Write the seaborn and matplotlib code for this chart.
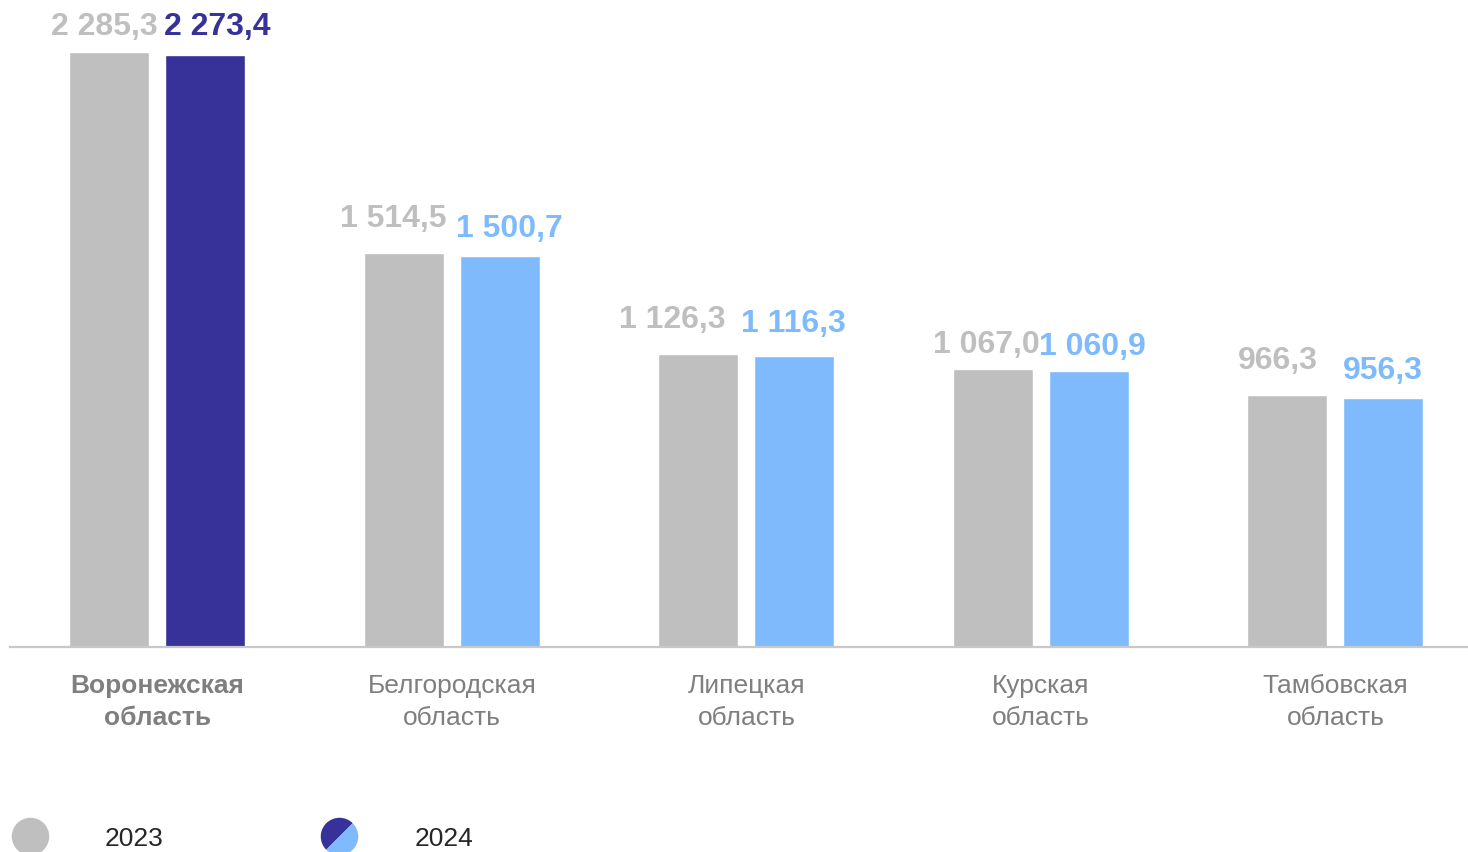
import pandas as pd
import matplotlib
matplotlib.use("Agg")
import matplotlib.pyplot as plt
import seaborn as sns
from matplotlib.lines import Line2D
from matplotlib.markers import MarkerStyle
from matplotlib.transforms import Affine2D

# Data
regions = ["Воронежская\nобласть", "Белгородская\nобласть", "Липецкая\nобласть",
           "Курская\nобласть", "Тамбовская\nобласть"]
values_2023 = [2285.3, 1514.5, 1126.3, 1067.0, 966.3]
values_2024 = [2273.4, 1500.7, 1116.3, 1060.9, 956.3]
years = ["2023", "2024"]

GRAY = "#BFBFBF"
DARK = "#37319A"
LIGHT = "#7FBBFC"

# small label nudges in pixels (dx, gap above bar top to baseline)
nudge_x = [[-5, -11, -26, -7, -10], [12, 10, -1, 3, -1]]
gap_y = [[18, 27, 27, 17, 27], [21, 20, 25, 17, 20]]

df = pd.DataFrame({
    "region": regions * 2,
    "year": [years[0]] * len(regions) + [years[1]] * len(regions),
    "value": values_2023 + values_2024,
})

sns.set_style("white")
plt.rcParams["font.family"] = ["Liberation Sans", "DejaVu Sans"]

fig = plt.figure(figsize=(14.68, 8.53), dpi=100)
ax = fig.add_axes([10 / 1468, 205 / 853, 1458 / 1468, 648 / 853])

sns.barplot(data=df, x="region", y="value", hue="year", order=regions,
            palette={"2023": GRAY, "2024": LIGHT}, width=0.652, gap=0.167,
            legend=False, ax=ax, saturation=1)

# first 2024 bar is dark (highlighted region)
ax.containers[1][0].set_facecolor(DARK)


def fmt(v):
    return f"{v:,.1f}".replace(",", " ").replace(".", ",")


px = 72 / 100  # points per pixel
for c, cont in enumerate(ax.containers):
    for i, bar in enumerate(cont):
        col = GRAY if c == 0 else bar.get_facecolor()
        ax.annotate(fmt(bar.get_height()),
                    (bar.get_x() + bar.get_width() / 2, bar.get_height()),
                    xytext=(nudge_x[c][i] * px, gap_y[c][i] * px),
                    textcoords="offset points",
                    ha="center", va="baseline", fontsize=23, fontweight="bold",
                    color=col, annotation_clip=False)

ax.set_xlim(-0.5, 4.45)
ax.set_ylim(0, 2488)
ax.set_xlabel("")
ax.set_ylabel("")
ax.set_yticks([])
ax.tick_params(axis="x", length=0, pad=19, labelsize=19, labelcolor="#7F7F7F")
for lab in ax.get_xticklabels():
    lab.set_linespacing(1.38)
ax.get_xticklabels()[0].set_fontweight("bold")

for s in ["top", "left", "right"]:
    ax.spines[s].set_visible(False)
ax.spines["bottom"].set_color("#C8C8C8")
ax.spines["bottom"].set_linewidth(1.6)

# Legend
split = MarkerStyle("o", fillstyle="top", transform=Affine2D().rotate_deg(45))
handles = [
    Line2D([], [], linestyle="none", marker="o", markersize=27,
           markerfacecolor=GRAY, markeredgewidth=0),
    Line2D([], [], linestyle="none", marker=split, markersize=27,
           markerfacecolor=DARK, markerfacecoloralt=LIGHT, markeredgewidth=0),
]
fig.legend(handles, years, loc="center left", bbox_to_anchor=(10 / 1468, 14 / 853),
           ncol=2, frameon=False, fontsize=19, handlelength=1.5,
           handletextpad=2.1, columnspacing=5.9, borderpad=0, borderaxespad=0,
           labelcolor="#262626")

fig.savefig("out.png", dpi=100)
